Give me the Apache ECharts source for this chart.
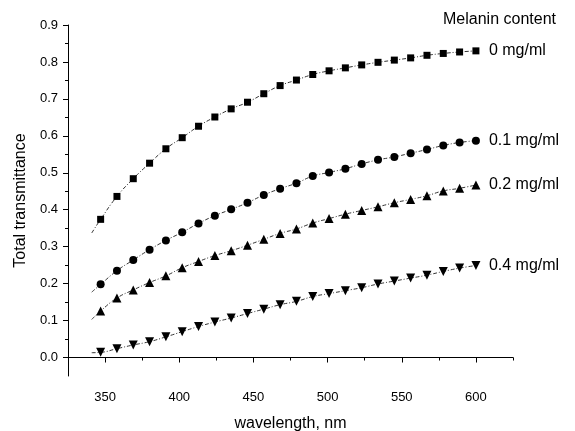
<!DOCTYPE html>
<html>
<head>
<meta charset="utf-8">
<script src="https://cdn.jsdelivr.net/npm/echarts@6/dist/echarts.min.js"></script>
<style>
  html, body { margin: 0; padding: 0; background: #fff; }
  #chart { width: 575px; height: 431px; }
</style>
</head>
<body>
<div id="chart"></div>
<script>
// measured wavelengths (nm)
var wavelengths = [347, 358, 369, 380, 391, 402, 413, 424, 435, 446, 457, 468,
                   479, 490, 501, 512, 523, 534, 545, 556, 567, 578, 589, 600];
var seriesNames = ['0 mg/ml', '0.1 mg/ml', '0.2 mg/ml', '0.4 mg/ml'];
var mel0 = [0.374, 0.436, 0.484, 0.526, 0.565, 0.595, 0.626, 0.651, 0.673, 0.691, 0.714, 0.736,
            0.751, 0.766, 0.776, 0.784, 0.792, 0.799, 0.805, 0.811, 0.818, 0.823, 0.827, 0.830];
var mel01 = [0.198, 0.235, 0.264, 0.292, 0.317, 0.339, 0.363, 0.384, 0.401, 0.419, 0.440, 0.457,
             0.472, 0.491, 0.501, 0.511, 0.524, 0.535, 0.543, 0.553, 0.563, 0.574, 0.582, 0.587];
var mel02 = [0.126, 0.161, 0.183, 0.203, 0.221, 0.243, 0.260, 0.276, 0.289, 0.304, 0.320, 0.336,
             0.348, 0.364, 0.376, 0.388, 0.398, 0.408, 0.419, 0.428, 0.438, 0.451, 0.458, 0.467];
var mel04 = [0.014, 0.024, 0.034, 0.043, 0.056, 0.070, 0.084, 0.096, 0.107, 0.119, 0.131, 0.143,
             0.152, 0.165, 0.173, 0.181, 0.189, 0.199, 0.207, 0.215, 0.223, 0.233, 0.242, 0.249];
// start of the fitted curves (left of first marker)
var fitStartX = 341;
var fitStartY = [0.337, 0.177, 0.103, 0.013];

var xMajor = [350, 400, 450, 500, 550, 600];
var xMinor = [325, 375, 425, 475, 525, 575, 625];
var yMajor = [0, 0.1, 0.2, 0.3, 0.4, 0.5, 0.6, 0.7, 0.8, 0.9];
var yMinor = [0.05, 0.15, 0.25, 0.35, 0.45, 0.55, 0.65, 0.75, 0.85];

var font = 'Liberation Sans, Arial, sans-serif';
var symbols = ['rect', 'circle', 'triangle', 'triangle'];
var symbolSizes = [7, 8, 9, 9];
var rotations = [0, 0, 0, 180];
var allValues = [mel0, mel01, mel02, mel04];

function buildData(vals, i) {
    var d = [{ value: [fitStartX, fitStartY[i]], symbol: 'none' }];
    for (var k = 0; k < wavelengths.length; k++) {
        d.push([wavelengths[k], vals[k]]);
    }
    return d;
}

var series = allValues.map(function (vals, i) {
    return {
        name: seriesNames[i],
        type: 'line',
        smooth: true,
        symbol: symbols[i],
        symbolSize: symbolSizes[i],
        symbolRotate: rotations[i],
        showAllSymbol: true,
        itemStyle: { color: '#000' },
        lineStyle: { color: '#333', width: 1, type: [4, 2, 1, 2] },
        endLabel: {
            show: true,
            formatter: '{a}',
            distance: 13,
            color: '#000',
            fontFamily: font,
            fontSize: 16
        },
        data: buildData(vals, i)
    };
});

var myChart = echarts.init(document.getElementById('chart'));
myChart.setOption({
    animation: false,
    backgroundColor: '#fff',
    title: {
        text: 'Melanin content',
        right: 14,
        top: 7,
        textStyle: { fontFamily: font, fontSize: 16, fontWeight: 'normal', color: '#000' }
    },
    grid: { left: 68, right: 62, top: 25, bottom: 55, containLabel: false, outerBoundsMode: 'none' },
    xAxis: [
        {
            type: 'value',
            min: 325,
            max: 625,
            interval: 25,
            name: 'wavelength, nm',
            nameLocation: 'middle',
            nameGap: 40,
            nameTextStyle: { fontFamily: font, fontSize: 16, color: '#000' },
            axisLine: { lineStyle: { color: '#000', width: 1 } },
            axisTick: { show: true, customValues: xMajor, length: 5, lineStyle: { color: '#000' } },
            axisLabel: {
                customValues: xMajor,
                margin: 15,
                fontFamily: font,
                fontSize: 13,
                color: '#000'
            },
            splitLine: { show: false }
        },
        {
            type: 'value',
            position: 'bottom',
            min: 325,
            max: 625,
            interval: 25,
            axisLine: { show: false },
            axisTick: { show: true, customValues: xMinor, length: 3, lineStyle: { color: '#000' } },
            axisLabel: { show: false },
            splitLine: { show: false }
        }
    ],
    yAxis: [
        {
            type: 'value',
            min: -0.05,
            max: 0.9,
            interval: 0.05,
            name: 'Total transmittance',
            nameLocation: 'middle',
            nameRotate: 90,
            nameGap: 38,
            nameTextStyle: { fontFamily: font, fontSize: 16, color: '#000' },
            axisLine: { show: true, lineStyle: { color: '#000', width: 1 } },
            axisTick: { show: true, customValues: yMajor, length: 5, lineStyle: { color: '#000' } },
            axisLabel: {
                customValues: yMajor,
                margin: 10,
                fontFamily: font,
                fontSize: 13,
                color: '#000',
                formatter: function (v) { return v.toFixed(1); }
            },
            splitLine: { show: false }
        },
        {
            type: 'value',
            position: 'left',
            min: -0.05,
            max: 0.9,
            interval: 0.05,
            axisLine: { show: false },
            axisTick: { show: true, customValues: yMinor, length: 3, lineStyle: { color: '#000' } },
            axisLabel: { show: false },
            splitLine: { show: false }
        }
    ],
    series: series
});
</script>
</body>
</html>
